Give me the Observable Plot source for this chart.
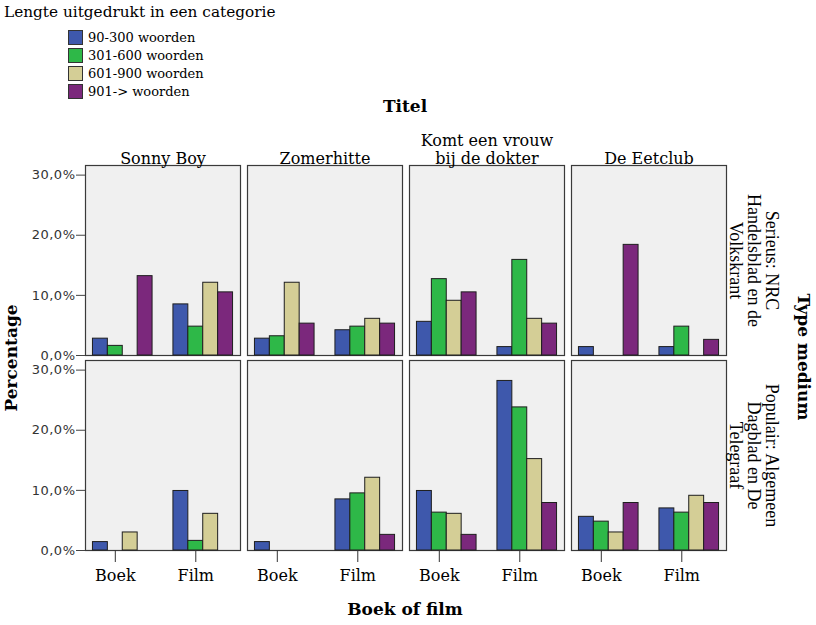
<!DOCTYPE html>
<html><head><meta charset="utf-8">
<script src="https://cdn.jsdelivr.net/npm/d3@7"></script>
<script src="https://cdn.jsdelivr.net/npm/@observablehq/plot@0.6"></script>
<style>
body{margin:0;background:#fff;}
#wrap{position:relative;width:816px;height:625px;overflow:hidden;background:#fff;}
#chart{position:absolute;left:0;top:0;}
.lbl{position:absolute;font-family:"DejaVu Serif",serif;font-weight:bold;font-size:17px;color:#000;white-space:nowrap;transform:translate(-50%,-50%);}
#legend{position:absolute;left:0;top:0;font-family:"DejaVu Serif",serif;color:#000;}
#legend .ttl{position:absolute;left:4px;top:3px;font-size:15.3px;white-space:nowrap;}
#legend .item{position:absolute;left:68px;height:15px;white-space:nowrap;font-size:13px;line-height:15px;}
#legend .sw{display:inline-block;width:13px;height:13px;border:1px solid #333;vertical-align:top;margin-right:5px;}
#chart g[aria-label="y-axis tick label"]{letter-spacing:0.5px;}
</style></head>
<body><div id="wrap">
<div id="chart"></div>
<div id="legend"></div>
<div class="lbl" style="left:405px;top:106px;">Titel</div>
<div class="lbl" style="left:405px;top:609px;">Boek of film</div>
<div class="lbl" style="left:11px;top:358px;transform:translate(-50%,-50%) rotate(-90deg);">Percentage</div>
<div class="lbl" style="left:804px;top:357px;transform:translate(-50%,-50%) rotate(90deg);">Type medium</div>
</div>
<script>
const titles = ["Sonny Boy", "Zomerhitte", "Komt een vrouw bij de dokter", "De Eetclub"];
const titleLabels = ["Sonny Boy", "Zomerhitte", "Komt een vrouw\nbij de dokter", "De Eetclub"];
const media = ["Serieus: NRC Handelsblad en de Volkskrant", "Populair: Algemeen Dagblad en De Telegraaf"];
const mediaLabels = ["Serieus: NRC\nHandelsblad en de\nVolkskrant", "Populair: Algemeen\nDagblad en De\nTelegraaf"];
const bookFilm = ["Boek", "Film"];
const lengths = ["90-300 woorden", "301-600 woorden", "601-900 woorden", "901-> woorden"];
const colors = ["#3e58ac", "#2eb848", "#d4ce96", "#7b287c"];
// percentages per title (rows) and length category (columns)
const serieusBoek  = [[2.8, 1.6, 0, 13.2], [2.8, 3.2, 12.1, 5.3], [5.6, 12.7, 9.1, 10.5], [1.4, 0, 0, 18.4]];
const serieusFilm  = [[8.5, 4.8, 12.1, 10.5], [4.2, 4.8, 6.1, 5.3], [1.4, 15.9, 6.1, 5.3], [1.4, 4.8, 0, 2.6]];
const populairBoek = [[1.4, 0, 3.0, 0], [1.4, 0, 0, 0], [9.9, 6.3, 6.1, 2.6], [5.6, 4.8, 3.0, 7.9]];
const populairFilm = [[9.9, 1.6, 6.1, 0], [8.5, 9.5, 12.1, 2.6], [28.2, 23.8, 15.2, 7.9], [7.0, 6.3, 9.1, 7.9]];
const yTicks = [0, 10, 20, 30];

const tables = [[serieusBoek, serieusFilm], [populairBoek, populairFilm]];
const groupGap = 1.4; // gap between the Boek and Film groups, in bar widths
const slot = (bi, li) => bi * (lengths.length + groupGap) + li;
const groupCenter = bi => slot(bi, 0) + lengths.length / 2;

const data = [];
media.forEach((m, mi) => titles.forEach((t, ti) => bookFilm.forEach((bf, bi) => lengths.forEach((len, li) => {
  const v = tables[mi][bi][ti][li];
  if (v > 0) data.push({medium: m, title: t, bf, len, li, bi, value: v});
}))));

const fmtPct = d => d.toFixed(1).replace(".", ",") + "%";

const chart = Plot.plot({
  width: 816, height: 625,
  marginLeft: 84, marginRight: 90, marginTop: 164.5, marginBottom: 73.5,
  style: {background: "transparent", color: "#000"},
  fx: {domain: titles, paddingInner: 0.046, paddingOuter: 0, axis: null},
  fy: {domain: media, paddingInner: 0.0255, paddingOuter: 0, axis: null},
  x: {domain: [slot(0, 0) - 0.5, slot(1, lengths.length - 1) + 1.5], axis: null},
  y: {domain: [0, 31.6], axis: null},
  color: {domain: lengths, range: colors},
  marks: [
    Plot.frame({fill: "#f0f0f0", stroke: "#3a3a3a", strokeWidth: 1.2}),
    Plot.rect(data, {
      fx: "title", fy: "medium",
      x1: d => slot(d.bi, d.li), x2: d => slot(d.bi, d.li) + 1,
      y1: 0, y2: "value",
      fill: "len", stroke: "#1e1e1e", strokeWidth: 1
    }),
    Plot.axisY(yTicks, {anchor: "left", tickSize: 9, tickPadding: 1, tickFormat: fmtPct, label: null,
      fontSize: 13, fontFamily: "DejaVu Sans", stroke: "#444", fill: "#333"}),
    Plot.axisX(bookFilm.map((bf, bi) => groupCenter(bi) - 0.5), {anchor: "bottom", tickSize: 12, tickPadding: 7,
      tickFormat: d => bookFilm[Math.round((d + 0.5 - lengths.length / 2) / (lengths.length + groupGap))],
      fontSize: 16, fontFamily: "DejaVu Serif", stroke: "#333", label: null}),
    Plot.axisFx({anchor: "top", tickSize: 0, tickPadding: 2, label: null,
      tickFormat: d => titleLabels[titles.indexOf(d)], fontSize: 16, fontFamily: "DejaVu Serif", lineHeight: 1.12}),
    Plot.text(media, {
      fy: d => d, fx: () => titles[titles.length - 1],
      text: d => mediaLabels[media.indexOf(d)],
      frameAnchor: "right", dx: 3, rotate: 90,
      textAnchor: "middle", lineAnchor: "bottom", lineHeight: 1.0,
      fontSize: 18, fontFamily: "Liberation Serif", fill: "#000"
    })
  ]
});
document.getElementById("chart").appendChild(chart);

const legend = document.getElementById("legend");
const ttl = document.createElement("div");
ttl.className = "ttl";
ttl.textContent = "Lengte uitgedrukt in een categorie";
legend.appendChild(ttl);
lengths.forEach((len, i) => {
  const it = document.createElement("div");
  it.className = "item";
  it.style.top = (30 + i * 18) + "px";
  const sw = document.createElement("span");
  sw.className = "sw";
  sw.style.background = colors[i];
  it.appendChild(sw);
  it.appendChild(document.createTextNode(len));
  legend.appendChild(it);
});
</script>
</body></html>
